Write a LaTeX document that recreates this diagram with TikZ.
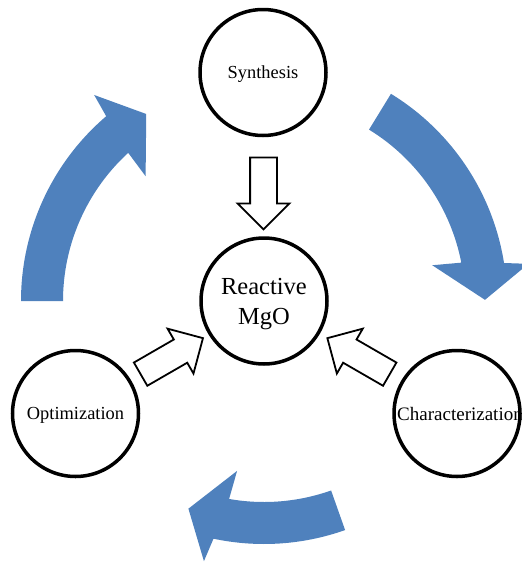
\documentclass[tikz,border=0pt]{standalone}
\usepackage{fontspec}
\setmainfont{Liberation Serif}
\usetikzlibrary{calc, shapes.arrows}
\definecolor{cycleblue}{HTML}{4F81BD}

\begin{document}
\begin{tikzpicture}[x=1pt, y=1pt,
  stage/.style={circle, draw, line width=3.5pt, minimum size=126pt, inner sep=0pt, text depth=0pt, font=\fontsize{18.4}{21}\selectfont},
  hollow/.style={single arrow, draw, line width=1.8pt, fill=white, minimum height=72pt, minimum width=50pt, single arrow head extend=12.5pt, inner xsep=0pt, inner ysep=12.5pt},
  cycarrow/.style={fill=cycleblue}]
\path[use as bounding box, clip] (0,0) rectangle (522,-565);
\node[stage] (syn) at (263,-72.5) {Synthesis};
\node[stage, font=\fontsize{24.5}{30}\selectfont, align=center] (mgo) at (264,-301) {Reactive\\MgO};
\node[stage] (opt) at (75.5,-413.5) {Optimization};
\node[stage] (char) at (457,-413.5) {\makebox[0pt]{\hspace{6pt}\fontsize{19}{21}\selectfont Characterization}};
% hollow arrows into the centre
\node[hollow, rotate=-90] (a1) at ($(syn)!0.5!(mgo)$) {};
\node[hollow, rotate=30] (a2) at ($(opt)!0.48!(mgo)$) {};
\node[hollow, rotate=150] (a3) at ($(char)!0.48!(mgo)$) {};
% blue cycle arrows round the centre
\foreach \s/\e/\t in {180/131.5/122.2, 58.5/10/0.3, -70.5/-101/-110}
  \fill[cycarrow] ($(mgo)+(\s:201)$) arc[start angle=\s, end angle=\e+1, radius=201]
    -- ($(mgo)+(\e+2:172)$) -- ($(mgo)+(\t:221)$) -- ($(mgo)+(\e-2:267)$)
    -- ($(mgo)+(\e-1:243)$) arc[start angle=\e-1, end angle=\s, radius=243] -- cycle;
\end{tikzpicture}
\end{document}
